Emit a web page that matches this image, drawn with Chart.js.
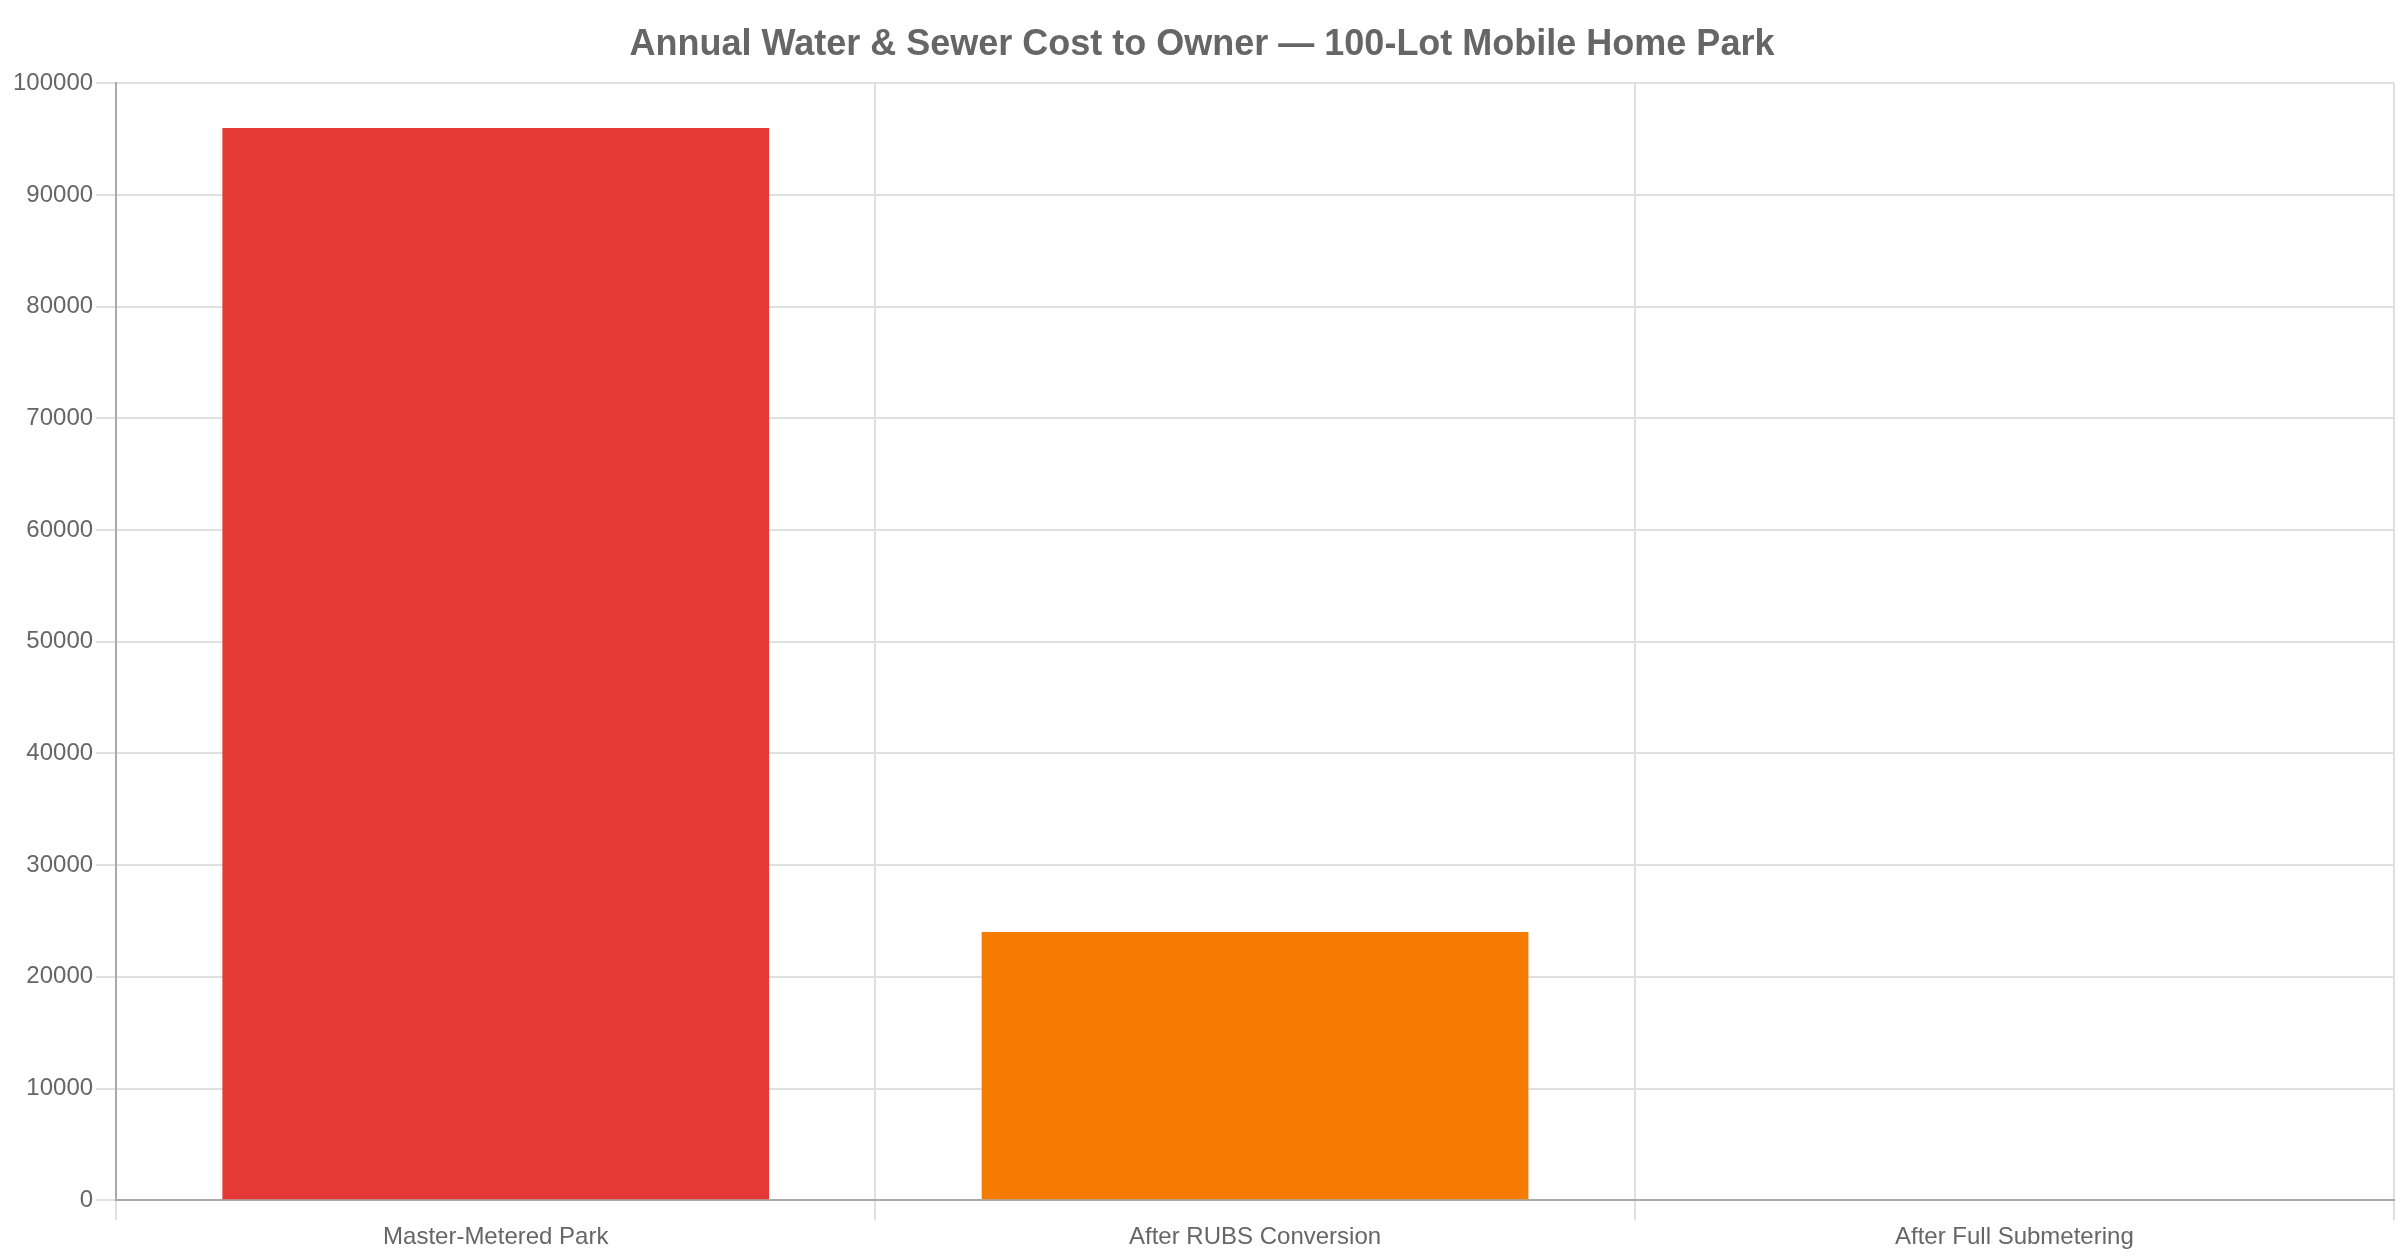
<!DOCTYPE html>
<html>
<head>
<meta charset="utf-8">
<script src="https://cdn.jsdelivr.net/npm/chart.js@4/dist/chart.umd.min.js"></script>
<style>
html,body{margin:0;padding:0;background:#fff;}
#c{display:block;}
</style>
</head>
<body>
<canvas id="c" width="2400" height="1260"></canvas>
<script>
const categories = ["Master-Metered Park", "After RUBS Conversion", "After Full Submetering"];
const annualCost = [96000, 24000, 0];
const barColors = ["#E53935", "#F57C00", "#43A047"];
const chartTitle = "Annual Water & Sewer Cost to Owner — 100-Lot Mobile Home Park";

Chart.defaults.font.family = "'Liberation Sans', Arial, Helvetica, sans-serif";
Chart.defaults.color = "#666";

new Chart(document.getElementById("c"), {
  type: "bar",
  data: {
    labels: categories,
    datasets: [{
      label: "Annual Cost",
      data: annualCost,
      backgroundColor: barColors,
      borderWidth: 0
    }]
  },
  options: {
    responsive: false,
    animation: false,
    devicePixelRatio: 1,
    layout: { padding: { left: 10, right: 6, top: 0, bottom: 5 } },
    plugins: {
      legend: { display: false },
      title: {
        display: true,
        text: chartTitle,
        font: { size: 36, weight: "bold" },
        color: "#666",
        padding: { top: 23, bottom: 17 }
      },
      tooltip: { enabled: false }
    },
    scales: {
      x: {
        grid: { color: "#e0e0e0", lineWidth: 2, tickLength: 20 },
        border: { color: "#aaa", width: 2 },
        ticks: { font: { size: 24 }, color: "#666" }
      },
      y: {
        beginAtZero: true,
        max: 100000,
        grid: { color: "#e0e0e0", lineWidth: 2, tickLength: 20 },
        border: { color: "#aaa", width: 2 },
        ticks: { font: { size: 24 }, color: "#666", stepSize: 10000, callback: v => String(v) }
      }
    }
  }
});
</script>
</body>
</html>
